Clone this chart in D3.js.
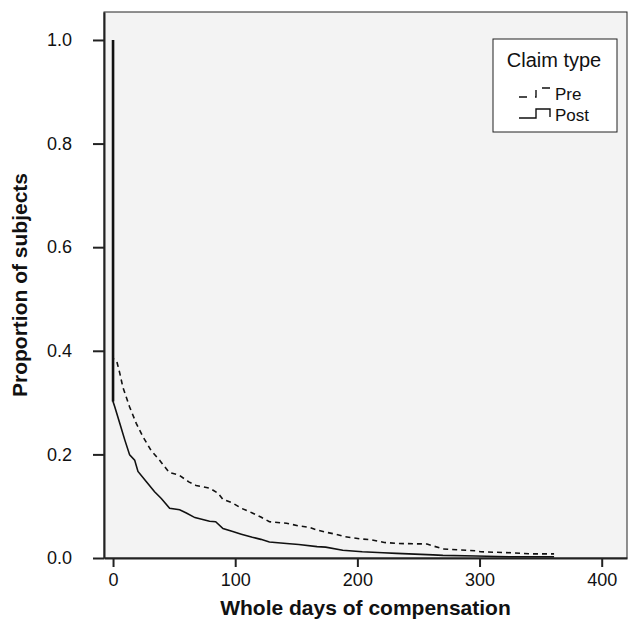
<!DOCTYPE html>
<html>
<head>
<meta charset="utf-8">
<script src="https://cdn.jsdelivr.net/npm/d3@7"></script>
<style>
  body { margin: 0; background: #fff; }
  text { font-family: "Liberation Sans", Arial, sans-serif; fill: #111; }
</style>
</head>
<body>
<svg id="chart" width="628" height="623"></svg>
<script>
// Kaplan-Meier style curves: [days, proportion]
const preCurve = [
  [0, 1], [0, 0.385], [3, 0.38], [5.5, 0.357], [8, 0.33], [13.5, 0.292], [19, 0.26],
  [24.5, 0.234], [31, 0.208], [38, 0.189], [46, 0.165], [54, 0.16], [62, 0.147],
  [68, 0.14], [79, 0.135], [86, 0.125], [90, 0.113], [98, 0.106], [105, 0.096],
  [114, 0.087], [121, 0.079], [128, 0.07], [142, 0.067], [152, 0.062], [161, 0.059],
  [167, 0.054], [174, 0.05], [182, 0.046], [190, 0.041], [202, 0.037], [212, 0.035],
  [222, 0.03], [234, 0.028], [257, 0.027], [261, 0.024], [270, 0.0175], [297, 0.014],
  [301, 0.012], [327, 0.01], [343, 0.008], [361, 0.008]
];
const postCurve = [
  [0, 1], [0, 0.302], [1.4, 0.292], [5.5, 0.26], [9.6, 0.228], [13.6, 0.199],
  [17.7, 0.189], [20.4, 0.167], [27.3, 0.147], [34, 0.128], [39.5, 0.115],
  [46.3, 0.096], [54.5, 0.093], [60, 0.087], [67, 0.078], [79, 0.071], [84, 0.07],
  [90, 0.057], [98, 0.051], [105, 0.046], [114, 0.04], [121, 0.036], [128, 0.031],
  [142, 0.028], [152, 0.026], [167, 0.022], [174, 0.021], [188, 0.015], [204, 0.012],
  [221, 0.01], [232, 0.009], [262, 0.006], [270, 0.005], [297, 0.004], [324, 0.0025],
  [361, 0.0025]
];
const seriesNames = ["Pre", "Post"];
const xTicks = [0, 100, 200, 300, 400];
const yTicks = [0, 0.2, 0.4, 0.6, 0.8, 1.0];

const LEFT = 104, RIGHT = 627, TOP = 12, BOTTOM = 558;

const svg = d3.select("#chart");

// x: 0 sits at ~113px, 100 days ~122px
const x = d3.scaleLinear().domain([-7.4, 420.7]).range([LEFT, RIGHT]);
const y = d3.scaleLinear().domain([0, 1.054]).range([BOTTOM, TOP]);

svg.append("rect")
  .attr("x", LEFT).attr("y", TOP)
  .attr("width", RIGHT - LEFT).attr("height", BOTTOM - TOP)
  .attr("fill", "#f3f3f3")
  .attr("stroke", "#222").attr("stroke-width", 1);

// axes
const xAxis = svg.append("g")
  .attr("transform", "translate(0," + BOTTOM + ")")
  .call(d3.axisBottom(x).tickValues(xTicks).tickSize(9).tickSizeOuter(0)
    .tickPadding(6).tickFormat(d3.format("d")));
const yAxis = svg.append("g")
  .attr("transform", "translate(" + LEFT + ",0)")
  .call(d3.axisLeft(y).tickValues(yTicks).tickSize(11).tickSizeOuter(0)
    .tickPadding(21).tickFormat(d3.format(".1f")));

[xAxis, yAxis].forEach(a => {
  a.select(".domain").attr("stroke", "#222").attr("stroke-width", 2);
  a.selectAll(".tick line").attr("stroke", "#222").attr("stroke-width", 2);
  a.selectAll(".tick text")
    .attr("font-family", "Liberation Sans, Arial, sans-serif")
    .attr("font-size", 18).attr("fill", "#111");
});

// curves
const line = d3.line().x(d => x(d[0])).y(d => y(d[1]));

svg.append("path")
  .datum(preCurve)
  .attr("d", line)
  .attr("fill", "none")
  .attr("stroke", "#111")
  .attr("stroke-width", 1.6)
  .attr("stroke-dasharray", "5,4");

svg.append("path")
  .datum(postCurve)
  .attr("d", line)
  .attr("fill", "none")
  .attr("stroke", "#111")
  .attr("stroke-width", 1.6);

// the shared drop at day 0 looks heavier in the original
svg.append("line")
  .attr("x1", x(0)).attr("x2", x(0))
  .attr("y1", y(1)).attr("y2", y(0.302))
  .attr("stroke", "#111").attr("stroke-width", 2.6);

// axis titles
svg.append("text")
  .attr("x", (LEFT + RIGHT) / 2).attr("y", 615)
  .attr("text-anchor", "middle")
  .attr("font-size", 21).attr("font-weight", "bold")
  .text("Whole days of compensation");

svg.append("text")
  .attr("transform", "translate(27," + (TOP + BOTTOM) / 2 + ") rotate(-90)")
  .attr("text-anchor", "middle")
  .attr("font-size", 21).attr("font-weight", "bold")
  .text("Proportion of subjects");

// legend
const legend = svg.append("g").attr("transform", "translate(493,39)");
legend.append("rect")
  .attr("width", 124).attr("height", 93)
  .attr("fill", "#fff").attr("stroke", "#222").attr("stroke-width", 1);
legend.append("text")
  .attr("x", 61).attr("y", 28)
  .attr("text-anchor", "middle")
  .attr("font-size", 20)
  .text("Claim type");

const glyph = d3.line().x(d => d[0]).y(d => d[1]);
const glyphPts = [[26, 10], [43, 10], [43, 1], [57, 1], [57, 9]];

seriesNames.forEach((name, i) => {
  const g = legend.append("g").attr("transform", "translate(0," + (48 + i * 21) + ")");
  g.append("path")
    .attr("d", glyph(glyphPts))
    .attr("fill", "none")
    .attr("stroke", "#111")
    .attr("stroke-width", 1.4)
    .attr("stroke-dasharray", i === 0 ? "8,8" : null);
  g.append("text")
    .attr("x", 62).attr("y", 13)
    .attr("font-size", 17)
    .text(name);
});
</script>
</body>
</html>
